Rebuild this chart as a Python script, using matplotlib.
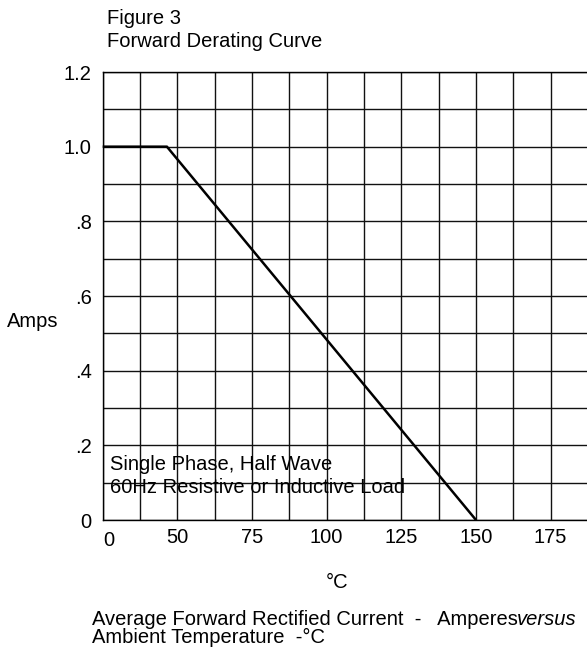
import numpy as np
import matplotlib
matplotlib.use('Agg')
import matplotlib.pyplot as plt
from matplotlib.transforms import ScaledTranslation

plt.rcParams['font.family'] = ['Liberation Sans', 'DejaVu Sans']

# derating curve (the left edge of the grid is labelled "0")
temp = [25, 46.5, 150]
amps = [1.0, 1.0, 0.0]

x_ticks = [25, 50, 75, 100, 125, 150, 175]
x_tick_labels = ['0', '50', '75', '100', '125', '150', '175']
y_ticks = [0, 0.2, 0.4, 0.6, 0.8, 1.0, 1.2]
y_tick_labels = ['0', '.2', '.4', '.6', '.8', '1.0', '1.2']

W, H = 587, 659
fs = 14.5
fig = plt.figure(figsize=(W / 100, H / 100), dpi=100)
ax = fig.add_axes([102.7 / W, 1 - 520 / H, (588 - 102.7) / W, (520 - 72) / H])

ax.plot(temp, amps, color='black', lw=1.8, solid_capstyle='butt', zorder=3, clip_on=False)

ax.set_xlim(25, 187.5)
ax.set_ylim(0, 1.2)
ax.set_xticks(x_ticks)
ax.set_xticklabels(x_tick_labels, fontsize=fs)
ax.set_xticks(np.arange(25, 187.6, 12.5), minor=True)
ax.set_yticks(y_ticks)
ax.set_yticklabels(y_tick_labels, fontsize=fs)
ax.set_yticks(np.arange(0, 1.21, 0.1), minor=True)
ax.tick_params(which='both', length=0)
ax.tick_params(axis='x', pad=6)
ax.tick_params(axis='y', pad=8)
ax.grid(which='both', color='#111111', lw=1.0)
ax.set_axisbelow(True)
for s in ax.spines.values():
    s.set_linewidth(1.0)

# the "0" under the left edge sits a little right and lower
lab0 = ax.get_xticklabels()[0]
lab0.set_transform(lab0.get_transform() + ScaledTranslation(0.06, -0.03, fig.dpi_scale_trans))

def px(x, y):
    return x / W, 1 - y / H

fig.text(*px(107, 23.5), 'Figure 3', fontsize=fs, va='baseline')
fig.text(*px(107, 47), 'Forward Derating Curve', fontsize=fs, va='baseline')
fig.text(*px(7, 326.7), 'Amps', fontsize=fs, va='baseline')
fig.text(*px(109.7, 470), 'Single Phase, Half Wave', fontsize=fs, va='baseline')
fig.text(*px(109.7, 493), '60Hz Resistive or Inductive Load', fontsize=fs, va='baseline')
fig.text(*px(337, 588), '°C', fontsize=fs, va='baseline', ha='center')
fig.text(*px(91.8, 625), 'Average Forward Rectified Current  -   Amperes', fontsize=fs, va='baseline')
fig.text(*px(577, 625), 'versus', fontsize=fs, va='baseline', ha='right', style='italic')
fig.text(*px(91.8, 643), 'Ambient Temperature  -°C', fontsize=fs, va='baseline')

fig.savefig('out.png', dpi=100)
